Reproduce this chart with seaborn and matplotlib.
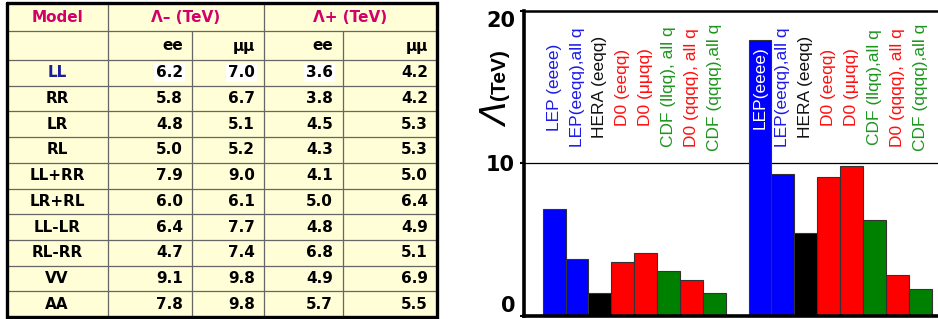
import matplotlib
matplotlib.use("Agg")
import matplotlib.pyplot as plt
import seaborn as sns
import pandas as pd

# ---------------- data ----------------
models = ["LL", "RR", "LR", "RL", "LL+RR", "LR+RL", "LL-LR", "RL-RR", "VV", "AA"]
lam_minus_ee = ["6.2", "5.8", "4.8", "5.0", "7.9", "6.0", "6.4", "4.7", "9.1", "7.8"]
lam_minus_mumu = ["7.0", "6.7", "5.1", "5.2", "9.0", "6.1", "7.7", "7.4", "9.8", "9.8"]
lam_plus_ee = ["3.6", "3.8", "4.5", "4.3", "4.1", "5.0", "4.8", "6.8", "4.9", "5.7"]
lam_plus_mumu = ["4.2", "4.2", "5.3", "5.3", "5.0", "6.4", "4.9", "5.1", "6.9", "5.5"]
table_headers = ["Model", "Λ– (TeV)", "Λ+ (TeV)"]
sub_headers = ["ee", "μμ", "ee", "μμ"]

experiments = ["LEP", "LEP", "HERA", "D0", "D0", "CDF", "D0", "CDF"]
labels_a = ["LEP (eeee)", "LEP(eeqq),all q", "HERA (eeqq)", "D0 (eeqq)",
            "D0 (μμqq)", "CDF (llqq), all q", "D0 (qqqq), all q", "CDF (qqqq),all q"]
labels_b = ["LEP(eeee)", "LEP(eeqq),all q", "HERA (eeqq)", "D0 (eeqq)",
            "D0 (μμqq)", "CDF (llqq),all q", "D0 (qqqq), all q", "CDF (qqqq),all q"]
values_a = [7.0, 3.7, 1.5, 3.5, 4.1, 2.95, 2.35, 1.5]
values_b = [18.1, 9.3, 5.45, 9.1, 9.8, 6.25, 2.65, 1.75]
y_ticks = [0, 10, 20]

bar_palette = {"LEP": "#0000FF", "HERA": "#000000", "D0": "#FF0000", "CDF": "#008000"}
text_palette = {"LEP": "#1C1CE8", "HERA": "#111111", "D0": "#FF1010", "CDF": "#1E961E"}

# ---------------- figure ----------------
sns.set_theme(style="white")
plt.rcParams["font.family"] = ["DejaVu Sans"]

W, H = 938, 319
fig = plt.figure(figsize=(W / 100, H / 100), dpi=100)
fig.patch.set_facecolor("white")

# ---------------- table ----------------
tax = fig.add_axes([0, 0, 470 / W, 1])
tax.set_xlim(0, 470)
tax.set_ylim(H, 0)
tax.axis("off")

x0, x1 = 7, 437
y0, y1 = 3, 317
tax.add_patch(plt.Rectangle((x0, y0), x1 - x0, y1 - y0, facecolor="#FFFED6",
                            edgecolor="none", zorder=0))
row_top = 60
n = len(models)
row_h = (y1 - row_top) / n
grid_kw = dict(color="#666666", lw=0.9, zorder=1)
# horizontal lines
tax.plot([x0, x1], [31, 31], **grid_kw)
tax.plot([x0, x1], [row_top, row_top], **grid_kw)
for i in range(1, n):
    yy = row_top + i * row_h
    tax.plot([x0, x1], [yy, yy], **grid_kw)
# vertical lines
tax.plot([108, 108], [y0, y1], **grid_kw)
tax.plot([264, 264], [y0, y1], **grid_kw)
tax.plot([192, 192], [31, y1], **grid_kw)
tax.plot([343, 343], [31, y1], **grid_kw)
# outer border
tax.plot([x0, x1, x1, x0, x0], [y0, y0, y1, y1, y0], color="black", lw=2.4,
         zorder=3, solid_joinstyle="miter")

hdr_color = "#D1006B"
tfont = dict(fontsize=11, fontweight="bold", family="DejaVu Sans")
tax.text(57, 17, table_headers[0], ha="center", va="center", color=hdr_color, **tfont)
tax.text(186, 17, table_headers[1], ha="center", va="center", color=hdr_color, **tfont)
tax.text(350, 17, table_headers[2], ha="center", va="center", color=hdr_color, **tfont)

col_right = [183, 255, 333, 428]
for xr, s in zip(col_right, sub_headers):
    tax.text(xr, 46, s, ha="right", va="center", color="black", **tfont)

cols = [lam_minus_ee, lam_minus_mumu, lam_plus_ee, lam_plus_mumu]
for i, m in enumerate(models):
    yc = row_top + (i + 0.5) * row_h
    tax.text(57, yc, m, ha="center", va="center",
             color="#1C1C9C" if i == 0 else "black", **tfont)
    for j, (xr, col) in enumerate(zip(col_right, cols)):
        kw = {}
        if i == 0 and j < 3:
            kw["bbox"] = dict(facecolor="white", edgecolor="none", pad=1.5)
        tax.text(xr, yc, col[i], ha="right", va="center", color="black", **tfont, **kw)

# ---------------- bar chart ----------------
ax_left_px, ax_top_px, ax_bot_px = 523.5, 11, 315.7
ax = fig.add_axes([ax_left_px / W, (H - ax_bot_px) / H,
                   1 - ax_left_px / W, (ax_bot_px - ax_top_px) / H])

positions = list(range(len(values_a))) + [len(values_a) + 1 + k for k in range(len(values_b))]
df = pd.DataFrame({
    "pos": positions,
    "value": values_a + values_b,
    "exp": experiments + experiments,
    "label": labels_a + labels_b,
})

sns.barplot(data=df, x="pos", y="value", hue="exp", palette=bar_palette,
            native_scale=True, width=1.0, dodge=False, legend=False,
            saturation=1, edgecolor="#333333", linewidth=0.8, ax=ax, zorder=2)

ax.set_xlim(-1.34, 16.78)
ax.set_ylim(0, 20)
ax.axhline(10, color="black", lw=0.9, zorder=1)
ax.set_xticks([])
ax.set_xlabel("")
ax.set_ylabel("")
ax.set_yticks(y_ticks)
ax.set_yticklabels([str(t) for t in y_ticks], fontsize=15, fontweight="bold",
                   family="DejaVu Sans")
ax.tick_params(axis="y", length=3, width=1.5, pad=3, colors="black", left=True)
for lab, t in zip(ax.get_yticklabels(), y_ticks):
    if t == max(y_ticks):
        lab.set_va("top")
    elif t == min(y_ticks):
        lab.set_va("bottom")
for side, lw in [("left", 2.6), ("bottom", 2.6), ("top", 1.8)]:
    ax.spines[side].set_visible(True)
    ax.spines[side].set_color("black")
    ax.spines[side].set_linewidth(lw)
ax.spines["right"].set_visible(False)
ax.set_facecolor("white")

label_y = 15
for p, v, e, lab in zip(df["pos"], df["value"], df["exp"], df["label"]):
    c = "white" if v > label_y else text_palette[e]
    ax.text(p, label_y, lab, rotation=90, ha="center", va="center", color=c,
            fontsize=12.5, family="Liberation Sans", zorder=4)

# y-axis label: Λ(TeV)
fig.text(498 / W, 1 - 115 / H, "Λ", rotation=90, ha="center", va="center",
         fontsize=25, style="italic", family="DejaVu Sans", color="black")
fig.text(499 / W, 1 - 75 / H, "(TeV)", rotation=90, ha="center", va="center",
         fontsize=15, fontweight="bold", family="Liberation Sans", color="black")

fig.savefig("out.png", dpi=100, facecolor="white")
